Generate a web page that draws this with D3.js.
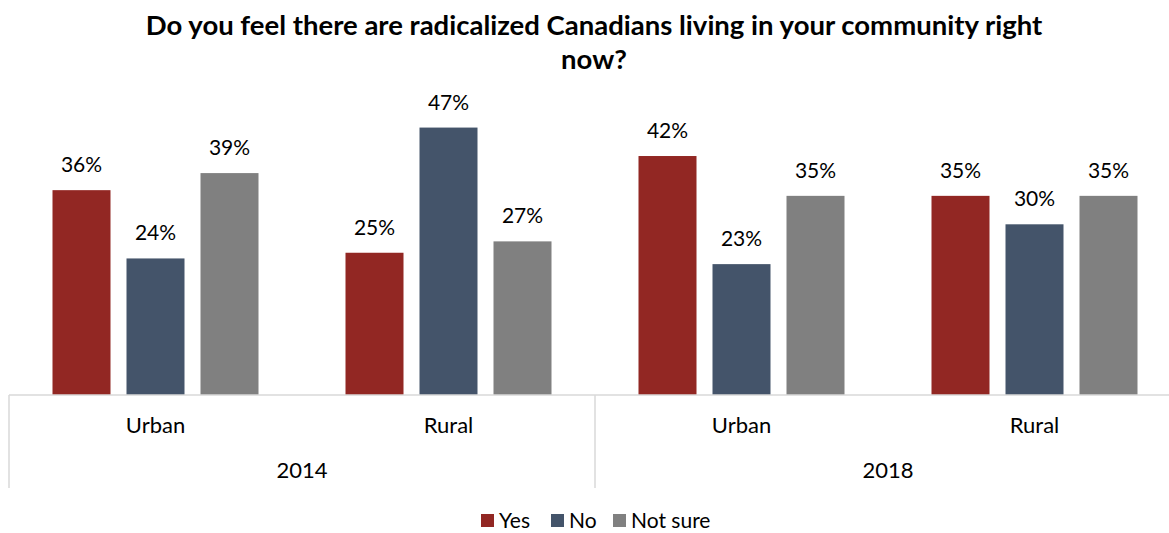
<!DOCTYPE html>
<html>
<head>
<meta charset="utf-8">
<script src="https://cdn.jsdelivr.net/npm/d3@7"></script>
<style>
  body { margin: 0; background: #fff; }
  svg { display: block; font-family: Lato, "Open Sans", sans-serif; }
</style>
</head>
<body>
<svg id="chart" width="1169" height="533"></svg>
<script>
// Survey data: share of respondents by answer, per year and community type
const years = ["2014", "2018"];
const areas = ["Urban", "Rural"];
const categories = ["2014|Urban", "2014|Rural", "2018|Urban", "2018|Rural"];
const seriesNames = ["Yes", "No", "Not sure"];
const yesValues = [36, 25, 42, 35];
const noValues = [24, 47, 23, 30];
const notSureValues = [39, 27, 35, 35];
const seriesColors = ["#922723", "#44546a", "#808080"];
const titleLines = ["Do you feel there are radicalized Canadians living in your community right", "now?"];

const series = [yesValues, noValues, notSureValues];

const svg = d3.select("#chart");
const baseY = 395;
const left = 9;
const bandW = 293;

const x0 = d3.scaleBand().domain(categories).range([left, left + bandW * categories.length]).paddingInner(0).paddingOuter(0);
const x1 = d3.scaleBand().domain(seriesNames).range([0, bandW]).paddingInner(16 / 74).paddingOuter(0.5 * (293 - 3 * 58 - 2 * 16) / 74);
const y = d3.scaleLinear().domain([0, 50]).range([baseY, baseY - 284.5]);

// Title
svg.append("g").selectAll("text").data(titleLines).join("text")
  .attr("x", 594).attr("y", (d, i) => 35 + i * 34)
  .attr("text-anchor", "middle")
  .attr("font-size", 27.5).attr("font-weight", "bold").attr("fill", "#000")
  .text(d => d);

// Bars and value labels
const groups = svg.append("g").selectAll("g").data(categories).join("g")
  .attr("transform", d => `translate(${x0(d)},0)`);

groups.each(function (cat, ci) {
  const g = d3.select(this);
  seriesNames.forEach((s, si) => {
    const v = series[si][ci];
    g.append("rect")
      .attr("x", x1(s)).attr("width", x1.bandwidth())
      .attr("y", y(v)).attr("height", baseY - y(v))
      .attr("fill", seriesColors[si]);
    g.append("text")
      .attr("x", x1(s) + x1.bandwidth() / 2).attr("y", y(v) - 18)
      .attr("text-anchor", "middle").attr("font-size", 21).attr("fill", "#000")
      .text(v + "%");
  });
});

// Category axis with two levels
const axisColor = "#d9d9d9";
svg.append("line").attr("x1", left).attr("x2", 1169).attr("y1", baseY).attr("y2", baseY)
  .attr("stroke", axisColor).attr("stroke-width", 1.5);
[left, left + 2 * bandW].forEach(xv => {
  svg.append("line").attr("x1", xv).attr("x2", xv).attr("y1", baseY).attr("y2", 488)
    .attr("stroke", axisColor).attr("stroke-width", 1.5);
});

svg.append("g").selectAll("text").data(categories).join("text")
  .attr("x", d => x0(d) + bandW / 2).attr("y", 433)
  .attr("text-anchor", "middle").attr("font-size", 22).attr("fill", "#000")
  .text(d => d.split("|")[1]);

svg.append("g").selectAll("text").data(years).join("text")
  .attr("x", (d, i) => left + bandW * (2 * i + 1)).attr("y", 478)
  .attr("text-anchor", "middle").attr("font-size", 22).attr("fill", "#000")
  .text(d => d);

// Legend
const legendX = [481, 551, 613];
const legend = svg.append("g").selectAll("g").data(seriesNames).join("g")
  .attr("transform", (d, i) => `translate(${legendX[i]},514)`);
legend.append("rect").attr("width", 13).attr("height", 13).attr("fill", (d, i) => seriesColors[i]);
legend.append("text").attr("x", 18).attr("y", 13.5).attr("font-size", 21).attr("fill", "#000").text(d => d);
</script>
</body>
</html>
